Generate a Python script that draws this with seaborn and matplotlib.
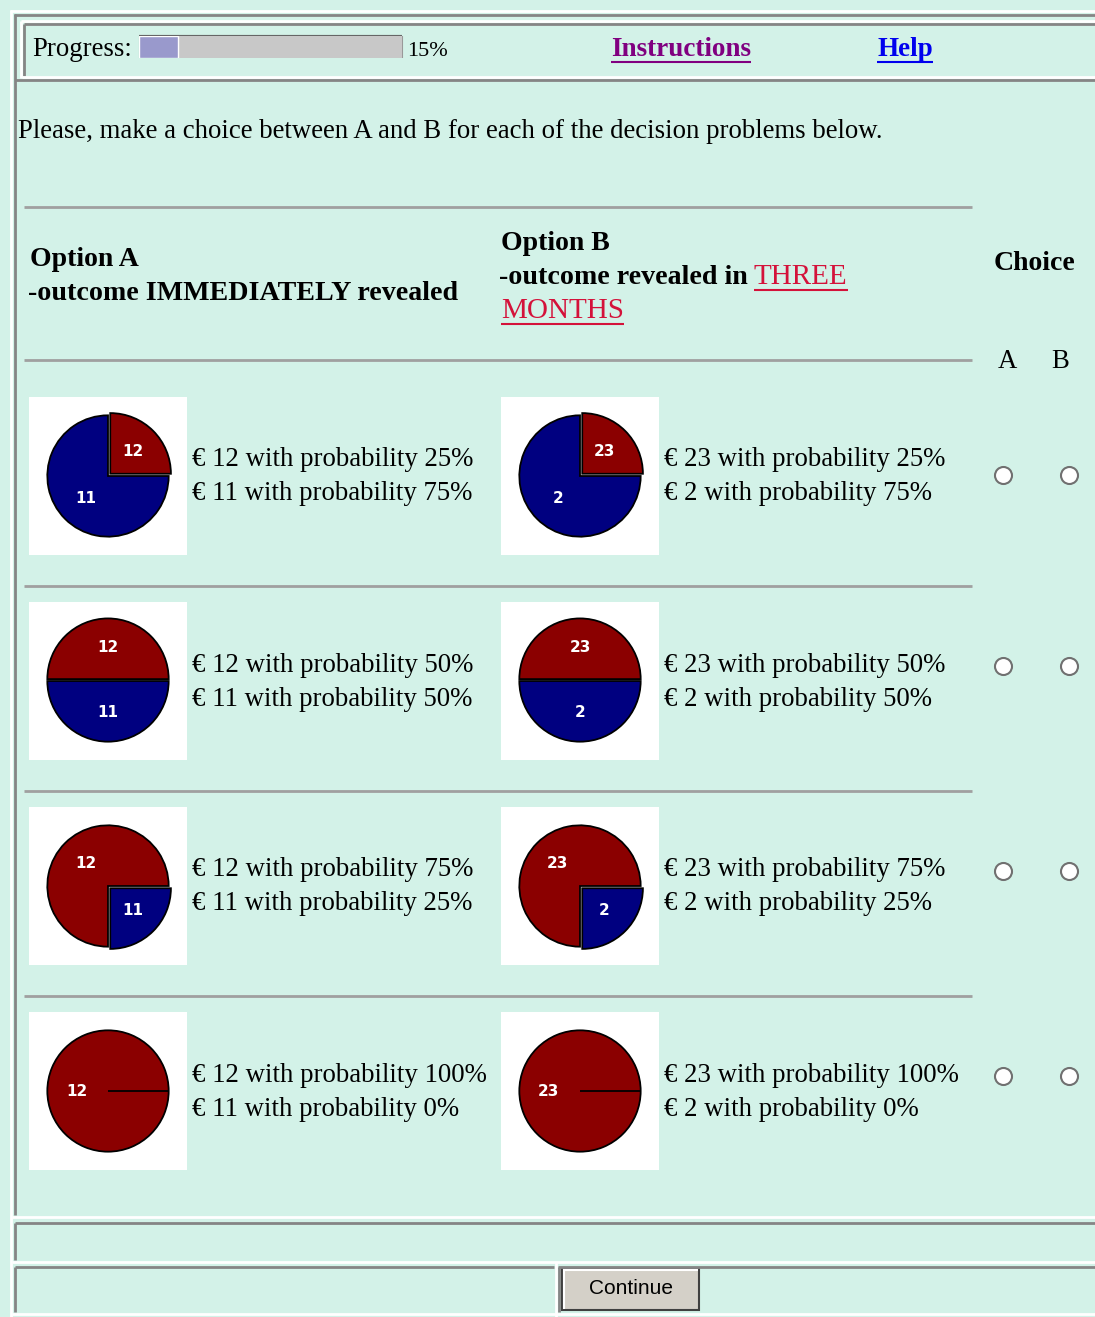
import matplotlib
matplotlib.use("Agg")
import matplotlib.pyplot as plt
import seaborn as sns

# decision problems: high / low outcome and probability of the high outcome
outcomes_a = [12, 11]
outcomes_b = [23, 2]
prob_high = [25, 50, 75, 100]
progress_pct = 15

pie_colors = ["#8b0000", "#000080"]
bg = "#d3f2e8"

W, H = 1095, 1317
sns.set_style("white")
plt.rcParams["font.family"] = ["Liberation Serif", "DejaVu Serif"]
plt.rcParams["text.color"] = "black"

fig = plt.figure(figsize=(W / 100, H / 100), dpi=100)
fig.patch.set_facecolor(bg)
ax = fig.add_axes([0, 0, 1, 1])
ax.set_xlim(0, W)
ax.set_ylim(H, 0)
ax.axis("off")

FS = 19.3   # body text
FB = 20     # bold headers


def px_axes(x, y, w, h):
    return fig.add_axes([x / W, 1 - (y + h) / H, w / W, h / H])


def hline(y, x0, x1, c, lw=1.5):
    ax.plot([x0, x1], [y, y], color=c, lw=lw, solid_capstyle="butt")


def vline(x, y0, y1, c, lw=1.5):
    ax.plot([x, x], [y0, y1], color=c, lw=lw, solid_capstyle="butt")


def underline(t, c, off=13):
    fig.canvas.draw()
    bb = t.get_window_extent()
    inv = ax.transData.inverted()
    (x0, _), (x1, _) = inv.transform([(bb.x0, 0), (bb.x1, 0)])
    y = t.get_position()[1] + off
    hline(y, x0, x1, c, lw=1.5)


gray, white = "#858585", "#ffffff"

# page frames
vline(11, 10, H, white, 2)
hline(11, 10, W, white, 2)
vline(15, 14, 1215, gray, 2)
hline(15, 14, W, gray, 2)
hline(21, 21, W, white, 2)
vline(21, 21, 78, white, 2)
hline(24, 24, W, gray, 2)
vline(24, 24, 76, gray, 2)
hline(77, 22, W, white, 2)
hline(80, 15, W, gray, 2)
hline(1217, 12, W, white, 2)
hline(1223, 15, W, gray, 2)
vline(15, 1223, 1260, gray, 2)
hline(1262, 12, W, white, 2)
hline(1267, 15, 554, gray, 2)
hline(1267, 558, W, gray, 2)
vline(15, 1267, 1312, gray, 2)
vline(556, 1262, H, white, 2)
vline(559, 1267, 1312, gray, 2)
hline(1314, 12, W, white, 2)

# progress bar
ax.text(32, 50, "Progress:", fontsize=FS, va="center")
pax = px_axes(139, 36, 263, 22)
pax.barh([0], [100], height=1, color="#c8c8c8", edgecolor="none")
sns.barplot(x=[progress_pct], y=[0], orient="h", color="#9999cc", width=1,
            saturation=1, ax=pax)
pax.set_xlim(0, 100)
pax.set_ylim(0.5, -0.5)
pax.axis("off")
hline(37, 139, 402, "#666666", 3)
vline(402, 36, 58, "#999999", 1.5)
vline(139.5, 36, 58, "#999999", 1.5)
ax.text(407, 51, f"{progress_pct}%", fontsize=16, va="center")

t = ax.text(681, 49, "Instructions", fontsize=19.5, fontweight="bold",
            color="#800080", ha="center", va="center")
underline(t, "#800080")
t = ax.text(905, 49, "Help", fontsize=19.5, fontweight="bold",
            color="#0000ee", ha="center", va="center")
underline(t, "#0000ee")

ax.text(18, 131, "Please, make a choice between A and B for each of the "
        "decision problems below.", fontsize=FS, va="center")

# table header
for y in [207, 360]:
    hline(y, 24, 972, "#a0a0a0", 2)
ax.text(30, 260, "Option A", fontsize=FB, fontweight="bold", va="center")
ax.text(28, 293, "-outcome IMMEDIATELY revealed", fontsize=20.2,
        fontweight="bold", va="center")
ax.text(501, 244, "Option B", fontsize=FB, fontweight="bold", va="center")
ax.text(499, 277, "-outcome revealed in", fontsize=20.2, fontweight="bold",
        va="center")
red = "#d4123a"
t = ax.text(754, 277, "THREE", fontsize=21, color=red, va="center")
underline(t, red)
t = ax.text(501, 311, "MONTHS", fontsize=21, color=red, va="center")
underline(t, red)
ax.text(994, 264, "Choice", fontsize=FB, fontweight="bold", va="center")
ax.text(1007, 362, "A", fontsize=FS, ha="center", va="center")
ax.text(1060, 362, "B", fontsize=FS, ha="center", va="center")


def draw_pie(x, y, outcomes, p):
    ax.add_patch(plt.Rectangle((x, y), 158, 158, color="white", lw=0))
    pa = px_axes(x, y, 158, 158)
    sizes = [p, 100 - p]
    if p == 50:
        explode = [0.03, 0]
    else:
        explode = [0.05 if s < 50 and s > 0 else 0 for s in sizes]
    labels = [str(o) if s > 0 else "" for o, s in zip(outcomes, sizes)]
    _, texts = pa.pie(sizes, colors=pie_colors, explode=explode,
                      startangle=0, counterclock=True, labels=labels,
                      radius=0.96, labeldistance=0.52,
                      wedgeprops=dict(edgecolor="black", linewidth=1.3),
                      textprops=dict(color="white", fontweight="bold",
                                     fontsize=11, family="DejaVu Sans"))
    for tx in texts:
        tx.set_ha("center")
        tx.set_va("center")


for i, p in enumerate(prob_high):
    top = 397 + 205 * i
    if i > 0:
        hline(top - 16, 24, 972, "#a0a0a0", 2)
    for x0, outs in [(29, outcomes_a), (501, outcomes_b)]:
        draw_pie(x0, top, outs, p)
        ax.text(x0 + 163, top + 63, f"€ {outs[0]} with probability {p}%",
                fontsize=FS, va="center")
        ax.text(x0 + 163, top + 97, f"€ {outs[1]} with probability {100 - p}%",
                fontsize=FS, va="center")
    ry = top + (78 if i == 0 else 64)
    ax.scatter([1003, 1069], [ry, ry], s=150, color="white",
               edgecolor="#707070", linewidth=1.5, zorder=5)

# continue button
ax.add_patch(plt.Rectangle((562, 1268), 137, 42, facecolor="#d4d0c8",
                           edgecolor="#404040", lw=1.5))
hline(1269.5, 563, 698, white, 1.5)
vline(563.5, 1269, 1309, white, 1.5)
ax.text(631, 1289, "Continue", fontsize=15, family="Liberation Sans",
        ha="center", va="center")

fig.savefig("out.png", dpi=100, facecolor=bg)
